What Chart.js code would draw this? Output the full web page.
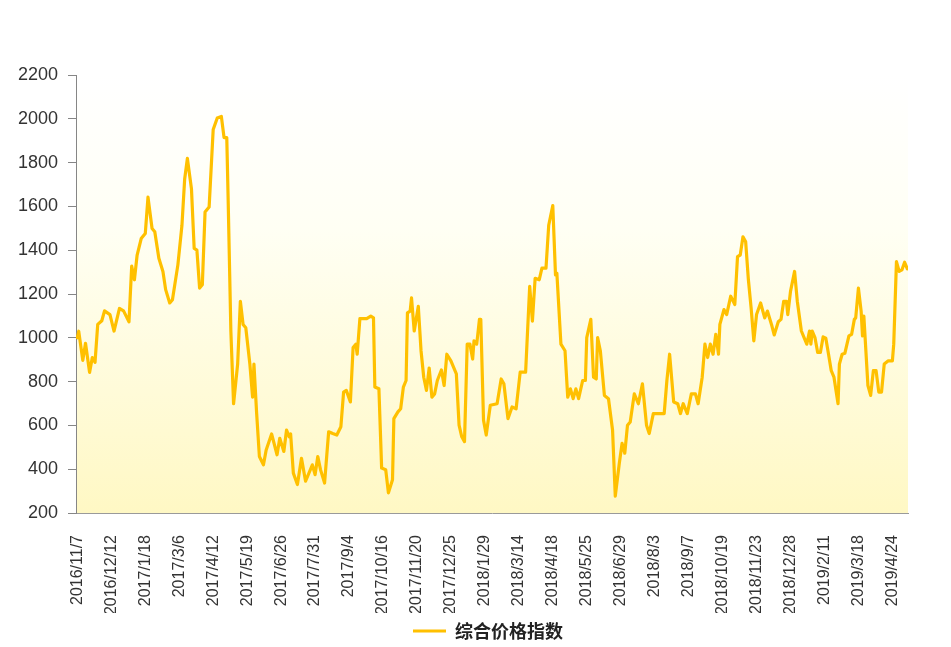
<!DOCTYPE html>
<html>
<head>
<meta charset="utf-8">
<script src="https://cdn.jsdelivr.net/npm/chart.js@4/dist/chart.umd.min.js"></script>
<style>
html,body{margin:0;padding:0;background:#fff;}
#wrap{position:relative;width:951px;height:647px;}
</style>
</head>
<body>
<div id="wrap"><canvas id="c" width="951" height="647"></canvas></div>
<script>
// Tick labels shown every 25 trading days
const tickLabels = ["2016/11/7","2016/12/12","2017/1/18","2017/3/6","2017/4/12","2017/5/19","2017/6/26","2017/7/31","2017/9/4","2017/10/16","2017/11/20","2017/12/25","2018/1/29","2018/3/14","2018/4/18","2018/5/25","2018/6/29","2018/8/3","2018/9/7","2018/10/19","2018/11/23","2018/12/28","2019/2/11","2019/3/18","2019/4/24"];
const tickStep = 25;
const seriesName = "综合价格指数";
// trading-day index of each read point
const dayIndex = [0,1,4,6,9,11,13,15,18,20,24,27,31,34,38,40,42,44,47,50,52,55,57,60,63,65,68,70,74,77,79,81,84,86,88,90,92,94,97,100,103,106,108,110,111,113,115,118,120,122,124,127,129,130,132,134,137,139,143,147,149,152,154,156,157,159,162,165,168,173,175,177,179,182,185,188,191,194,196,198,201,203,205,206,208,213,216,218,219,222,224,227,229,232,233,236,238,240,242,243,245,246,248,251,253,255,257,259,261,263,265,268,270,272,275,279,281,283,285,287,289,291,292,294,296,297,299,301,304,309,312,314,317,320,323,326,330,333,335,337,340,342,345,347,350,352,353,356,359,361,363,365,367,369,372,374,375,378,380,382,383,385,388,391,394,396,399,401,403,405,407,410,413,416,419,421,424,432,434,436,439,442,444,446,449,452,455,457,460,462,464,466,468,470,472,473,476,478,481,484,486,488,490,492,494,496,498,500,503,506,508,511,513,516,518,520,522,523,525,528,530,533,535,537,539,540,541,543,545,547,549,551,553,555,557,560,561,563,565,568,570,572,573,575,577,578,579,582,584,586,588,590,592,594,597,600,601,603,605,607,609,611];
const indexValues = [1000,1030,897,975,842,910,888,1061,1078,1123,1106,1031,1134,1123,1073,1327,1265,1378,1453,1476,1642,1499,1484,1363,1303,1220,1159,1174,1333,1514,1725,1819,1680,1408,1400,1227,1242,1574,1597,1951,2004,2011,1914,1914,1634,1031,699,880,1167,1061,1046,880,729,880,654,458,420,488,561,466,541,481,579,548,561,382,330,450,345,420,375,458,398,337,571,563,556,594,752,760,707,956,971,925,1088,1088,1099,1091,775,767,405,398,292,352,631,662,676,775,805,1114,1122,1182,1031,1144,941,820,760,862,729,744,805,853,782,925,895,835,601,548,526,971,971,903,986,971,1084,1084,624,556,692,699,812,790,631,684,676,843,843,1235,1076,1272,1265,1318,1318,1514,1604,1287,1295,971,941,729,767,722,767,722,805,805,1001,1084,820,812,1001,941,737,722,579,277,428,518,473,601,616,744,699,790,601,563,654,654,805,925,707,699,654,699,654,744,744,699,820,971,910,971,925,1016,925,1061,1129,1106,1190,1152,1371,1378,1461,1438,1265,1137,986,1106,1159,1091,1122,1061,1013,1073,1084,1167,1167,1106,1212,1303,1167,1031,1001,971,1031,971,1031,1001,933,933,1004,998,925,850,820,699,880,925,929,1009,1016,1084,1091,1227,1122,1009,1099,782,737,850,850,752,752,880,895,895,971,1348,1303,1310,1345,1315];
const yTicks = [200,400,600,800,1000,1200,1400,1600,1800,2000,2200];

const points = dayIndex.map((d,i)=>({x:d,y:indexValues[i]}));
const lineColor = '#FFC000';

const bgPlugin = {
  id:'plotBg',
  afterLayout(chart){
    const lg = chart.legend;
    if(lg){ lg.left += 34; lg.right += 34; lg.top += 3; lg.bottom += 3; }
  },
  beforeDraw(chart){
    const {ctx, chartArea:a} = chart;
    const g = ctx.createLinearGradient(0,a.top,0,a.bottom);
    g.addColorStop(0,'#FFFFFF');
    g.addColorStop(0.35,'#FFFFF4');
    g.addColorStop(1,'#FFF8C4');
    ctx.save();
    ctx.fillStyle = g;
    ctx.fillRect(a.left,a.top,a.right-a.left,a.bottom-a.top);
    ctx.restore();
  }
};

new Chart(document.getElementById('c'),{
  type:'line',
  data:{datasets:[{
    label:seriesName,
    data:points,
    borderColor:lineColor,
    backgroundColor:lineColor,
    borderWidth:3.2,
    pointRadius:0,
    tension:0,
    borderJoinStyle:'round',
    borderCapStyle:'round'
  }]},
  options:{
    responsive:false,
    animation:false,
    layout:{padding:{left:0,right:43,top:75,bottom:0}},
    plugins:{
      tooltip:{enabled:false},
      legend:{
        position:'bottom',
        labels:{
          boxWidth:33,
          boxHeight:3,
          padding:6,
          color:'#222',
          font:{family:'"Noto Sans CJK SC"',size:18,weight:'bold'},
          generateLabels(chart){
            const items = Chart.defaults.plugins.legend.labels.generateLabels(chart);
            items.forEach(it=>{it.lineWidth=0;it.fillStyle=lineColor;it.strokeStyle=lineColor;});
            return items;
          }
        }
      }
    },
    scales:{
      x:{
        type:'linear',
        min:-1,
        max:611.5,
        afterBuildTicks(scale){
          scale.ticks = tickLabels.map((t,i)=>({value:i*tickStep}));
        },
        afterFit(scale){ scale.height = 100; },
        grid:{display:false,drawTicks:false},
        border:{display:true,color:'#9a9a9a',dash:[2,2],width:1},
        ticks:{
          autoSkip:false,
          minRotation:90,
          maxRotation:90,
          padding:22,
          color:'#333',
          font:{family:'"Liberation Sans", Arial, sans-serif',size:16},
          callback(v){ const k = Math.round(v/tickStep); return tickLabels[k] ?? ''; }
        }
      },
      y:{
        min:200,
        max:2200,
        afterBuildTicks(scale){ scale.ticks = yTicks.map(v=>({value:v})); },
        afterFit(scale){ scale.width = 76; },
        grid:{drawOnChartArea:false,drawTicks:true,tickLength:8,color:'#868686'},
        border:{display:true,color:'#868686',width:1},
        ticks:{
          padding:10,
          color:'#333',
          font:{family:'"Liberation Sans", Arial, sans-serif',size:18},
          callback(v){ return String(v); }
        }
      }
    }
  },
  plugins:[bgPlugin]
});
</script>
</body>
</html>
